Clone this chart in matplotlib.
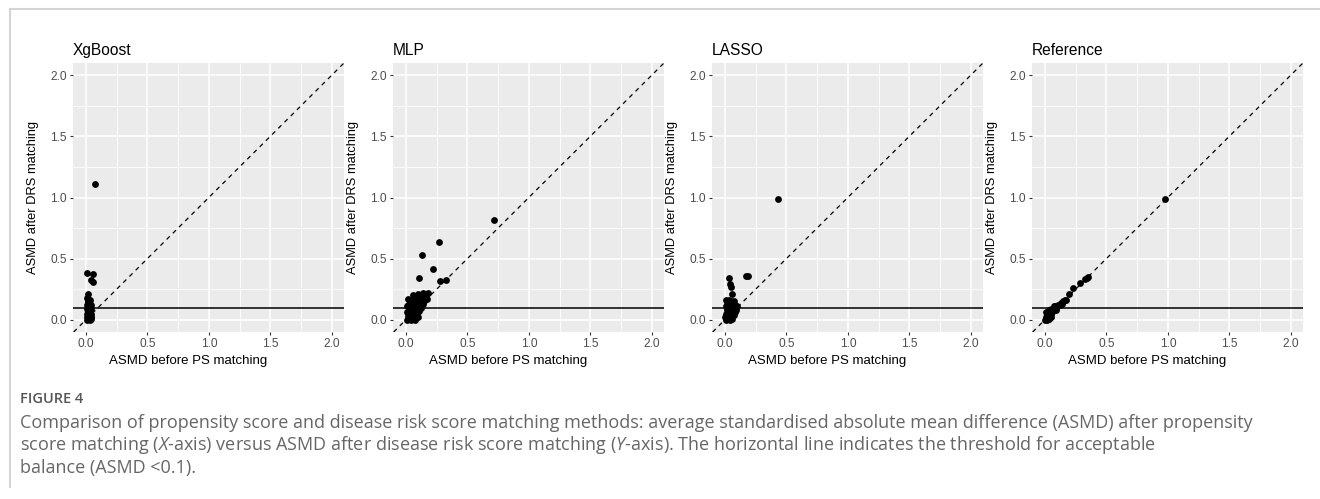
import matplotlib.pyplot as plt
from matplotlib.lines import Line2D

plt.rcParams['font.family'] = ['Liberation Sans', 'DejaVu Sans']
plt.rcParams['mathtext.fontset'] = 'custom'
plt.rcParams['mathtext.rm'] = 'Open Sans'
plt.rcParams['mathtext.it'] = 'Open Sans:italic'

# ASMD before PS matching (x) / after DRS matching (y)
xg_before = [0.07, 0.01, 0.06, 0.04, 0.054, 0.02,
             0.01, 0.02, 0.03, 0.015, 0.025, 0.035, 0.01, 0.02, 0.03, 0.04, 0.005, 0.015,
             0.025, 0.035, 0.045, 0.01, 0.02, 0.03, 0.04, 0.005, 0.015, 0.025, 0.035, 0.01,
             0.02, 0.03, 0.04, 0.02, 0.045, 0.04, 0.03, 0.02]
xg_after = [1.11, 0.385, 0.375, 0.325, 0.31, 0.21,
            0.18, 0.17, 0.16, 0.15, 0.14, 0.13, 0.12, 0.11, 0.10, 0.09, 0.09, 0.08,
            0.07, 0.06, 0.05, 0.05, 0.04, 0.03, 0.02, 0.02, 0.01, 0.005, 0.0, 0.0,
            0.06, 0.08, 0.12, 0.13, 0.02, 0.005, 0.11, 0.15]

mlp_before = [0.715, 0.27, 0.127, 0.223, 0.11, 0.28, 0.326,
              0.14, 0.18, 0.10, 0.06, 0.12, 0.16, 0.02, 0.08, 0.05, 0.10, 0.14, 0.17,
              0.03, 0.07, 0.11, 0.14, 0.01, 0.05, 0.09, 0.12, 0.03, 0.07, 0.11, 0.01,
              0.05, 0.09, 0.02, 0.06, 0.10, 0.01, 0.04, 0.07, 0.13, 0.15, 0.02, 0.08,
              0.04, 0.06, 0.03, 0.08, 0.12, 0.16]
mlp_after = [0.82, 0.64, 0.53, 0.415, 0.344, 0.32, 0.327,
             0.22, 0.22, 0.21, 0.20, 0.19, 0.19, 0.17, 0.18, 0.16, 0.16, 0.16, 0.17,
             0.14, 0.14, 0.13, 0.13, 0.11, 0.11, 0.10, 0.10, 0.08, 0.08, 0.07, 0.06,
             0.05, 0.04, 0.03, 0.02, 0.02, 0.0, 0.0, 0.0, 0.12, 0.15, 0.12, 0.12,
             0.03, 0.09, 0.01, 0.05, 0.16, 0.21]

lasso_before = [0.435, 0.17, 0.19, 0.032, 0.04, 0.05, 0.054,
                0.01, 0.03, 0.05, 0.07, 0.02, 0.04, 0.06, 0.08, 0.01, 0.03, 0.05, 0.07,
                0.09, 0.10, 0.09, 0.02, 0.04, 0.06, 0.08, 0.01, 0.03, 0.05, 0.07, 0.0,
                0.02, 0.04, 0.01, 0.06, 0.02, 0.04]
lasso_after = [0.99, 0.355, 0.355, 0.34, 0.295, 0.27, 0.21,
               0.16, 0.16, 0.15, 0.15, 0.13, 0.13, 0.12, 0.12, 0.11, 0.10, 0.10, 0.09,
               0.10, 0.11, 0.08, 0.08, 0.07, 0.06, 0.06, 0.05, 0.04, 0.03, 0.04, 0.02,
               0.01, 0.0, 0.0, 0.01, 0.10, 0.02]

ref_before = [0.98, 0.35, 0.34, 0.33, 0.285, 0.23, 0.20,
              0.17, 0.16, 0.15, 0.13, 0.14, 0.12, 0.11, 0.10, 0.09, 0.08, 0.07, 0.07,
              0.06, 0.05, 0.04, 0.06, 0.03, 0.05, 0.02, 0.04, 0.01, 0.03, 0.0, 0.02,
              0.01, 0.09, 0.03, 0.05]
ref_after = [0.99, 0.35, 0.34, 0.33, 0.30, 0.26, 0.21,
             0.16, 0.16, 0.15, 0.14, 0.13, 0.12, 0.12, 0.11, 0.10, 0.11, 0.09, 0.11,
             0.08, 0.09, 0.07, 0.06, 0.05, 0.05, 0.04, 0.03, 0.02, 0.01, 0.0, 0.0,
             0.06, 0.08, 0.08, 0.02]

titles = ['XgBoost', 'MLP', 'LASSO', 'Reference']
befores = [xg_before, mlp_before, lasso_before, ref_before]
afters = [xg_after, mlp_after, lasso_after, ref_after]
threshold = 0.1

W, H = 1320, 499
fig = plt.figure(figsize=(W / 100, H / 100), dpi=100)
fig.patch.set_facecolor('white')

# page frame (top and left edges)
fig.add_artist(Line2D([10 / W, 1], [1 - 9 / H, 1 - 9 / H], color='#d4d4d4', lw=1.5))
fig.add_artist(Line2D([10 / W, 10 / W], [1 - 9 / H, 1 - 487 / H], color='#d4d4d4', lw=1.5))

lefts = [73, 393, 712, 1032]
for left, title, xb, ya in zip(lefts, titles, befores, afters):
    ax = fig.add_axes([left / W, 1 - 332 / H, 271 / W, 269 / H])
    ax.set_facecolor('#EBEBEB')
    ax.set_xlim(-0.105, 2.1)
    ax.set_ylim(-0.1, 2.1)
    ticks = [0, 0.5, 1.0, 1.5, 2.0]
    ax.set_xticks(ticks)
    ax.set_yticks(ticks)
    ax.set_xticklabels(['0.0', '0.5', '1.0', '1.5', '2.0'])
    ax.set_yticklabels(['0.0', '0.5', '1.0', '1.5', '2.0'])
    ax.set_xticks([0.25, 0.75, 1.25, 1.75], minor=True)
    ax.set_yticks([0.25, 0.75, 1.25, 1.75], minor=True)
    ax.grid(which='major', color='white', lw=1.1)
    ax.grid(which='minor', color='white', lw=0.55)
    ax.set_axisbelow(True)
    for s in ax.spines.values():
        s.set_visible(False)
    ax.tick_params(which='major', length=2.5, width=0.8, color='#333333',
                   labelcolor='#4D4D4D', labelsize=8.6, pad=2)
    ax.tick_params(which='minor', length=0)

    ax.axline((0, 0), slope=1, color='black', lw=0.9, ls=(0, (3.5, 3.5)), zorder=2)
    ax.axhline(threshold, color='black', lw=1.1, zorder=2)
    ax.scatter(xb, ya, s=24, color='black', linewidths=0, zorder=3)

    ax.set_title(title, loc='left', fontsize=11.2, pad=6)
    ax.set_ylabel('ASMD after DRS matching', fontsize=9.3)
    ax.yaxis.set_label_coords(-0.125, 0.5)
    fig.text((left + 135 - 20) / W, 1 - 361 / H, 'ASMD before PS matching',
             ha='center', va='center', fontsize=9.5)

fig.text(20 / W, 1 - 399 / H, 'FIGURE 4', fontsize=10.5, color='#555555',
         family='Open Sans', weight='semibold', va='center')
caption = [
    'Comparison of propensity score and disease risk score matching methods: average standardised absolute mean difference (ASMD) after propensity',
    'score matching ($\\mathit{X}$-axis) versus ASMD after disease risk score matching ($\\mathit{Y}$-axis). The horizontal line indicates the threshold for acceptable',
    'balance (ASMD <0.1).',
]
for i, line in enumerate(caption):
    fig.text(20 / W, 1 - (423 + 22.5 * i) / H, line, fontsize=13, color='#666666',
             family='Open Sans', va='center')

fig.savefig('out.png', dpi=100)
